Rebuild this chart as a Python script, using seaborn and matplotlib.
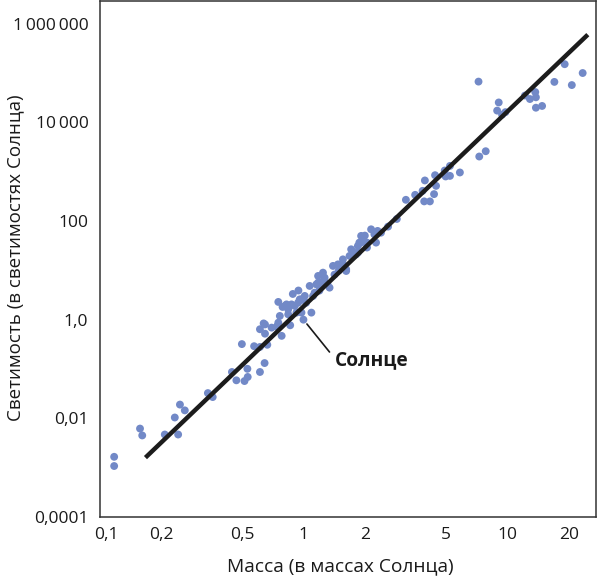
import matplotlib
matplotlib.use("Agg")
import matplotlib.pyplot as plt
import matplotlib.transforms as mtransforms
import seaborn as sns
import pandas as pd

# ---- data (mass in solar masses, luminosity in solar luminosities)
mass = [0.118, 0.118, 0.158, 0.162, 0.209, 0.243, 0.234, 0.248, 0.262, 0.340,
        0.359, 0.446, 0.469, 0.514, 0.531, 0.533, 0.612, 0.645, 0.499, 0.573,
        0.612, 0.665, 0.612, 0.638, 0.648, 0.698, 0.741, 0.782, 0.753, 0.790,
        0.861, 0.887, 1.000, 0.842, 0.874, 0.924, 0.959, 1.015, 1.073, 1.094,
        1.135, 1.224, 1.343, 1.270, 0.753, 0.826, 0.942, 0.978, 1.157, 1.180,
        1.247, 1.396, 1.476, 1.562, 1.620, 1.714, 1.683, 1.849, 1.918, 1.954,
        2.147, 2.228, 2.270, 2.310, 1.918, 1.849, 2.870, 3.180, 3.530, 3.840,
        3.940, 3.910, 4.170, 4.370, 4.470, 4.420, 4.930, 5.230, 5.230, 4.980,
        5.850, 7.280, 7.830, 7.220, 9.070, 8.910, 9.420, 9.780, 12.20, 12.90,
        13.70, 13.80, 13.80, 14.80, 17.00, 19.10, 20.70, 23.40, 1.880, 0.648,
        0.745, 0.811, 0.766, 0.842, 0.907, 0.978, 1.115, 1.180, 1.620, 1.197,
        1.310, 1.490, 1.770, 2.050, 2.000, 1.030, 0.945, 1.210, 1.420, 1.570,
        1.810, 2.050, 2.400, 2.600]
luminosity = [0.00166, 0.00108, 0.0062, 0.0045, 0.0047, 0.0047, 0.0104, 0.019, 0.0145, 0.0325,
              0.027, 0.087, 0.059, 0.057, 0.101, 0.069, 0.087, 0.132, 0.32, 0.29,
              0.28, 0.31, 0.64, 0.84, 0.52, 0.69, 0.72, 0.47, 2.29, 1.81,
              0.77, 3.32, 1.0, 1.62, 2.04, 1.39, 2.58, 3.03, 4.83, 1.39,
              3.53, 5.63, 4.46, 7.11, 0.87, 2.04, 2.21, 1.39, 5.2, 7.7,
              8.98, 12.3, 13.2, 16.7, 10.5, 26.7, 19.6, 31.3, 49.9, 39.4,
              67.9, 53.7, 36.5, 63.0, 36.5, 22.9, 110, 269, 339, 409,
              664, 250, 250, 351, 516, 849, 1057, 1310, 822, 800,
              964, 2030, 2600, 67000, 25300, 17300, 14300, 16100, 35000, 29700,
              41100, 32200, 19800, 21500, 66100, 151000, 57000, 100000, 36.5, 0.80,
              0.745, 1.90, 1.19, 1.28, 1.90, 2.58, 3.03, 5.63, 9.7, 3.88,
              5.37, 9.86, 22.9, 36.5, 50.6, 2.2, 3.9, 4.46, 8.2, 13.0,
              21.0, 29.0, 58.0, 77.0]

line_mass = [0.168, 24.8]
line_lum = [0.0016, 6.0e5]

x_ticks = [0.1, 0.2, 0.5, 1, 2, 5, 10, 20]
x_labels = ["0,1", "0,2", "0,5", "1", "2", "5", "10", "20"]
y_ticks = [1e-4, 1e-2, 1, 1e2, 1e4, 1e5, 1e6]
y_labels = ["0,0001", "0,01", "1,0", "100", "10\u2009000", "", "1\u2009000\u2009000"]

sun_mass, sun_lum = 1.0, 1.0

W, H = 600, 579

# ---- style
sns.set_style("white")
plt.rcParams["font.family"] = ["Open Sans", "DejaVu Sans"]

fig = plt.figure(figsize=(W / 100, H / 100), dpi=100)
ax = fig.add_axes([99.5 / W, 1 - 517 / H, (596 - 99.5) / W, (517 - 1) / H])

df = pd.DataFrame({"mass": mass, "lum": luminosity})
sns.scatterplot(data=df, x="mass", y="lum", ax=ax, color="#7289c7",
                s=32, edgecolor="none", linewidth=0, zorder=2)
sns.lineplot(x=line_mass, y=line_lum, ax=ax, color="#1c1c1c", lw=3.2,
             zorder=3, solid_capstyle="butt")

ax.set_xscale("log")
ax.set_yscale("log")
ax.set_xlim(0.1, 27.2)
ax.set_ylim(1e-4, 10 ** 6.46)

ax.set_xticks(x_ticks)
ax.set_xticklabels(x_labels)
ax.set_yticks(y_ticks)
ax.set_yticklabels(y_labels)
ax.minorticks_off()

ax.tick_params(axis="both", direction="in", length=10, width=1.1,
               color="#333333", labelsize=12.5, labelcolor="#1a1a1a")
ax.tick_params(axis="x", pad=7)
ax.tick_params(axis="y", pad=8)

# "0,1" label sits just right of the corner in the reference
off = mtransforms.ScaledTranslation(7 / 100, 0, fig.dpi_scale_trans)
lbl = ax.xaxis.get_majorticklabels()[0]
lbl.set_transform(lbl.get_transform() + off)

for sp in ax.spines.values():
    sp.set_visible(True)
    sp.set_color("#333333")
    sp.set_linewidth(1.1)

ax.set_xlabel("Масса (в массах Солнца)", fontsize=13.8, color="#1a1a1a")
ax.set_ylabel("Светимость (в светимостях Солнца)", fontsize=13.5, color="#1a1a1a")
ax.xaxis.set_label_coords((340 - 99.5) / 496.5, (517 - 566) / 516)
ax.xaxis.label.set_va("center")
ax.yaxis.set_label_coords((15 - 99.5) / 496.5, (517 - 258) / 516)
ax.yaxis.label.set_va("center")

# Sun annotation: leader line + bold label
ax.annotate("", xy=(sun_mass, sun_lum), xytext=(329.5, H - 352),
            textcoords="figure pixels",
            arrowprops=dict(arrowstyle="-", color="#1a1a1a", lw=1.2,
                            shrinkA=0, shrinkB=4))
fig.text(335 / W, 1 - 360 / H, "Солнце", fontsize=13.8, fontweight="bold",
         color="#1a1a1a", va="center", ha="left")

fig.savefig("out.png", dpi=100)
